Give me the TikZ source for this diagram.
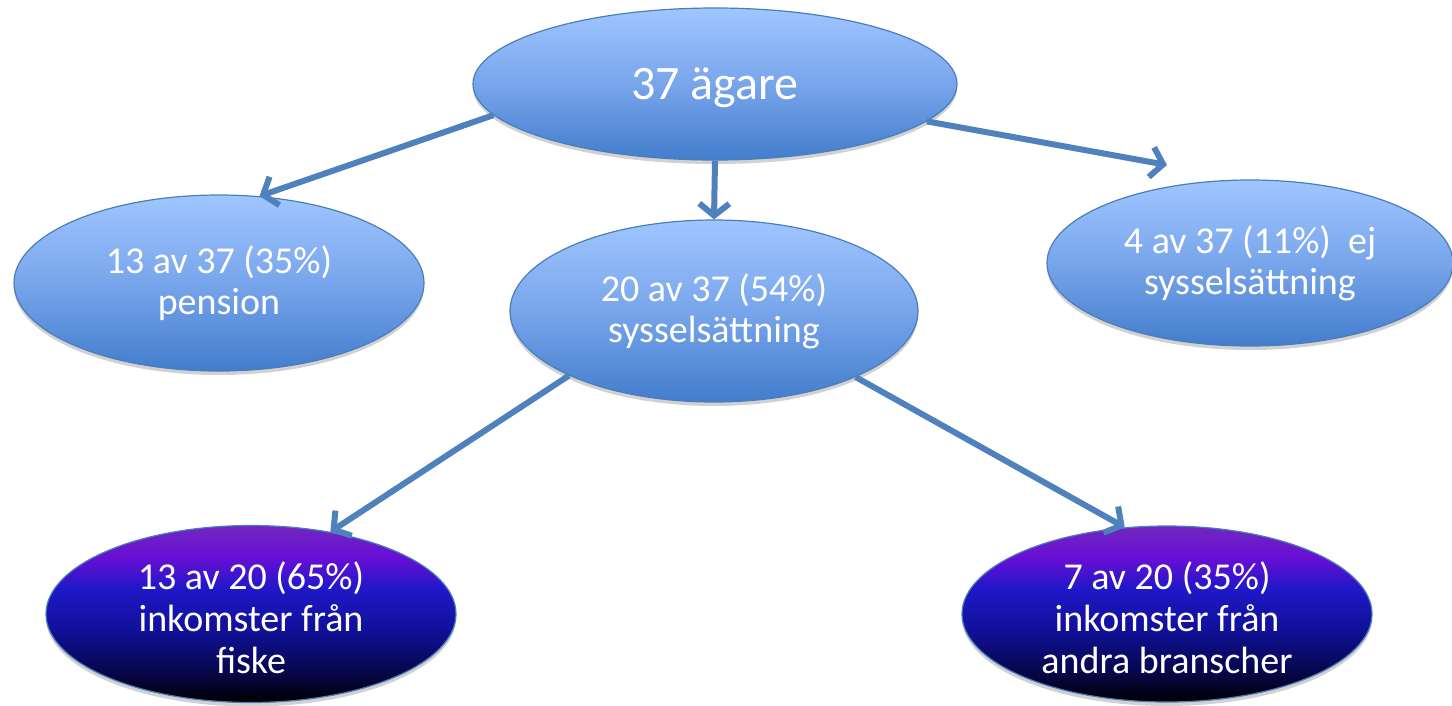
\documentclass[tikz,border=0pt]{standalone}
\usepackage{fontspec}
\setmainfont{Carlito}
\usetikzlibrary{arrows.meta,shapes.geometric,shadows}
\definecolor{edgeblue}{RGB}{74,126,187}
\definecolor{arrowblue}{RGB}{79,129,189}
\definecolor{lbtop}{RGB}{160,198,255}
\definecolor{lbmid}{RGB}{120,165,235}
\definecolor{lbbot}{RGB}{66,125,204}
\definecolor{dpurA}{RGB}{112,40,190}
\definecolor{dpurB}{RGB}{104,14,212}
\definecolor{dblueA}{RGB}{30,24,200}
\definecolor{dblueB}{RGB}{16,16,150}
\definecolor{dblueC}{RGB}{6,6,70}
\pgfdeclareverticalshading{lightell}{100bp}{color(0bp)=(lbbot); color(25bp)=(lbbot); color(50bp)=(lbmid); color(75bp)=(lbtop); color(100bp)=(lbtop)}
\pgfdeclareverticalshading{darkell}{100bp}{color(0bp)=(black); color(25bp)=(black); color(33bp)=(dblueC); color(45bp)=(dblueB); color(57bp)=(dblueA); color(66bp)=(dpurB); color(75bp)=(dpurA); color(100bp)=(dpurA)}
\tikzset{
  ellbase/.style={ellipse, draw=edgeblue, line width=1.2pt, inner sep=0pt, align=center, text=white,
    drop shadow={shadow xshift=0pt, shadow yshift=-4pt, opacity=0.18, fill=black}},
  lightnode/.style={ellbase, shading=lightell, font=\fontsize{38}{41}\selectfont},
  topnode/.style={ellbase, shading=lightell},
  darknode/.style={ellbase, shading=darkell},
  inlabel/.style={text=white, align=center, inner sep=0pt},
  conn/.style={draw=arrowblue, line width=6pt, -{Straight Barb[length=12pt,width=30pt]}}
}
\begin{document}
\begin{tikzpicture}[x=1pt,y=-1pt]
\useasboundingbox (0,0) rectangle (1452,705);
\node[topnode, minimum width=484pt, minimum height=152pt,
  label={[inlabel, font=\fontsize{48}{58}\selectfont, yshift=-4pt]center:37 ägare}] (top) at (715,84) {};
\node[lightnode, minimum width=410pt, minimum height=176pt] (pension) at (219,283) {13 av 37 (35\%)\\pension};
\node[lightnode, minimum width=408pt, minimum height=182pt] (mid) at (714,311) {20 av 37 (54\%)\\sysselsättning};
\node[lightnode, minimum width=406pt, minimum height=166pt] (right) at (1250,263) {4 av 37 (11\%)\ \ ej\\sysselsättning};
\node[darknode, minimum width=410pt, minimum height=177pt,
  label={[inlabel, font=\fontsize{38}{42}\selectfont, yshift=-4pt]center:13 av 20 (65\%)\\inkomster från\\fiske}] (bl) at (251,614) {};
\node[darknode, minimum width=410pt, minimum height=176pt,
  label={[inlabel, font=\fontsize{38}{42}\selectfont, yshift=-4pt]center:7 av 20 (35\%)\\inkomster från\\andra branscher}] (br) at (1167,614) {};
\coordinate (rtip) at (1167,165);
\draw[conn] (top.188.7) -- (pension.65);
\draw[conn] (top.270) -- (mid.90);
\draw[conn] (top.350.7) -- (rtip);
\draw[conn] (mid.204.9) -- (bl.46.7);
\draw[conn] (mid.335.6) -- (br.116.3);
\end{tikzpicture}
\end{document}
